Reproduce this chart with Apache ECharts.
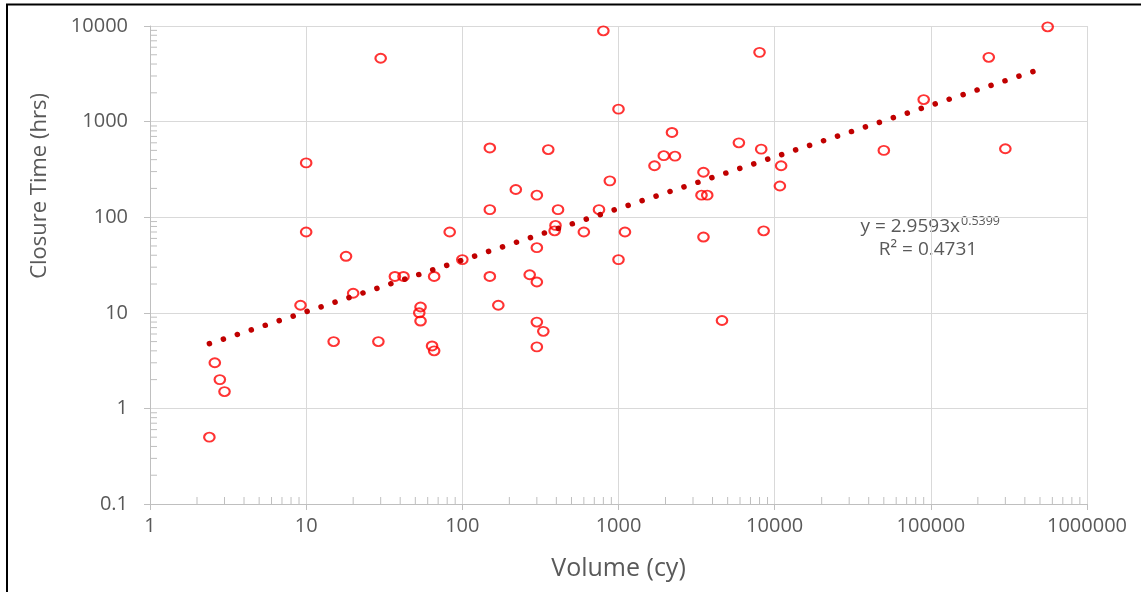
<!DOCTYPE html>
<html>
<head>
<meta charset="utf-8">
<style>
  html, body { margin: 0; padding: 0; background: #ffffff; }
  #chart { width: 1141px; height: 592px; }
</style>
<script src="https://cdn.jsdelivr.net/npm/echarts@6/dist/echarts.min.js"></script>
</head>
<body>
<div id="chart"></div>
<script>
// Spill volume (cy) and closure time (hrs) for each recorded event
const volumes = [
  2.4, 2.6, 2.8, 3.0, 9.2, 10, 10, 15, 18, 20,
  29, 30, 37, 42, 53, 54, 54, 64, 66, 66,
  83, 100, 150, 150, 150, 170, 220, 270, 300, 300,
  300, 300, 330, 300, 355, 390, 395, 410, 600, 750,
  800, 880, 1000, 1000, 1100, 1700, 1950, 2200, 2300, 3400,
  3700, 3500, 3500, 4600, 5900, 8000, 8200, 8500, 10800, 11000,
  50000, 90000, 235000, 300000, 560000
];
const closureTimes = [
  0.5, 3.0, 2.0, 1.5, 12, 70, 370, 5, 39, 16,
  5, 4600, 24, 24, 10, 11.5, 8.2, 4.5, 4, 24,
  70, 36, 24, 120, 530, 12, 195, 25, 170, 48,
  21, 8, 6.4, 4.4, 510, 72, 82, 120, 70, 120,
  8900, 240, 1350, 36, 70, 345, 440, 770, 435, 170,
  170, 295, 62, 8.3, 600, 5300, 515, 72, 212, 345,
  500, 1700, 4700, 520, 9800
];

// Power-law trendline y = a * x^b and its fit statistic
const trendA = 2.9593;
const trendB = 0.5399;
const trendR2 = 0.4731;
const trendXRange = [2.4, 545000];

// Axis tick labels (one per decade)
const xTickLabels = ['1', '10', '100', '1000', '10000', '100000', '1000000'];
const yTickLabels = ['0.1', '1', '10', '100', '1000', '10000'];

const points = volumes.map((v, i) => [v, closureTimes[i]]);
const trendPoints = trendXRange.map(x => [x, trendA * Math.pow(x, trendB)]);

// Minor log ticks at 2..9 x 10^k on both axes
const minorTicks = [];
for (let k = 0; k < 6; k++) {
  for (let m = 2; m <= 9; m++) minorTicks.push([m * Math.pow(10, k), 0.1, 0]);
}
for (let k = -1; k < 4; k++) {
  for (let m = 2; m <= 9; m++) minorTicks.push([1, m * Math.pow(10, k), 1]);
}

const textColor = '#595959';
const fontFamily = "'Open Sans', 'Liberation Sans', sans-serif";

const chart = echarts.init(document.getElementById('chart'), null, { renderer: 'canvas' });

chart.setOption({
  backgroundColor: '#ffffff',
  animation: false,
  grid: { left: 150, top: 26, right: 54, bottom: 88, containLabel: false },
  xAxis: {
    type: 'log',
    logBase: 10,
    min: 1,
    max: 1000000,
    interval: 1,
    name: 'Volume (cy)',
    nameLocation: 'middle',
    nameGap: 52,
    nameTextStyle: { color: textColor, fontSize: 25, fontFamily: fontFamily },
    axisLine: { show: true, lineStyle: { color: '#bfbfbf', width: 1 } },
    axisTick: { show: true, length: 6, lineStyle: { color: '#bfbfbf' } },
    axisLabel: {
      color: textColor, fontSize: 20, fontFamily: fontFamily, margin: 12,
      formatter: v => xTickLabels[Math.round(Math.log10(v))]
    },
    splitLine: { show: true, lineStyle: { color: '#d9d9d9', width: 1 } }
  },
  yAxis: {
    type: 'log',
    logBase: 10,
    min: 0.1,
    max: 10000,
    interval: 1,
    axisLine: { show: true, lineStyle: { color: '#bfbfbf', width: 1 } },
    axisTick: { show: true, length: 6, lineStyle: { color: '#bfbfbf' } },
    axisLabel: {
      color: textColor, fontSize: 20, fontFamily: fontFamily, margin: 22,
      formatter: v => yTickLabels[Math.round(Math.log10(v)) + 1]
    },
    splitLine: { show: true, lineStyle: { color: '#d9d9d9', width: 1 } }
  },
  series: [
    {
      name: 'minor ticks',
      type: 'custom',
      silent: true,
      clip: false,
      z: 1,
      data: minorTicks,
      encode: { x: 0, y: 1 },
      renderItem: function (params, api) {
        const p = api.coord([api.value(0), api.value(1)]);
        const vertical = api.value(2) === 0;
        return {
          type: 'line',
          shape: vertical
            ? { x1: p[0], y1: p[1], x2: p[0], y2: p[1] - 7 }
            : { x1: p[0], y1: p[1], x2: p[0] + 7, y2: p[1] },
          style: { stroke: '#bfbfbf', lineWidth: 1 }
        };
      }
    },
    {
      name: 'Closure Time',
      type: 'scatter',
      z: 3,
      data: points,
      symbol: 'circle',
      symbolSize: [10.5, 9],
      itemStyle: { color: 'rgba(255,255,255,0)', borderColor: '#ff0000', borderWidth: 2 }
    },
    {
      name: 'Power trendline',
      type: 'line',
      z: 4,
      data: trendPoints,
      symbol: 'none',
      silent: true,
      lineStyle: { color: '#c00000', width: 5.5, type: [0.1, 14.6], cap: 'round' }
    }
  ],
  graphic: [
    {
      type: 'rect',
      silent: true,
      shape: { x: 7, y: 4.5, width: 1300, height: 800 },
      style: { fill: 'none', stroke: '#000000', lineWidth: 2 }
    },
    {
      type: 'text',
      x: 40,
      y: 186,
      rotation: Math.PI / 2,
      style: {
        text: 'Closure Time (hrs)', fill: textColor, fontSize: 22, fontFamily: fontFamily,
        align: 'center', verticalAlign: 'middle'
      }
    },
    {
      type: 'text',
      x: 960,
      y: 227,
      style: {
        text: 'y = ' + trendA + 'x', fill: textColor, fontSize: 19, fontFamily: fontFamily,
        align: 'right', verticalAlign: 'middle'
      }
    },
    {
      type: 'text',
      x: 961,
      y: 221,
      style: {
        text: String(trendB), fill: textColor, fontSize: 12.5, fontFamily: fontFamily,
        align: 'left', verticalAlign: 'middle'
      }
    },
    {
      type: 'text',
      x: 928,
      y: 250,
      style: {
        text: 'R² = ' + trendR2, fill: textColor, fontSize: 19, fontFamily: fontFamily,
        align: 'center', verticalAlign: 'middle'
      }
    }
  ]
});
</script>
</body>
</html>
